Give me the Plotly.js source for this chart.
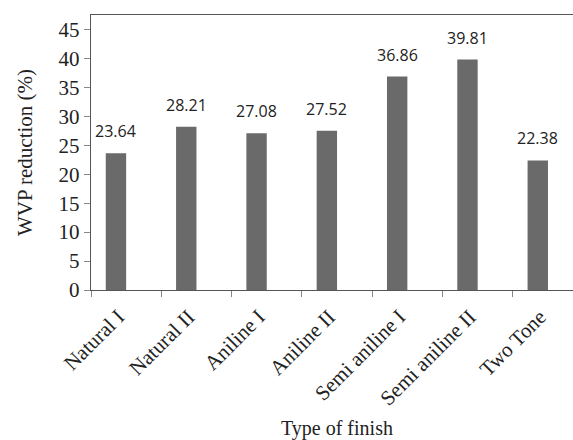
<!DOCTYPE html>
<html>
<head>
<meta charset="utf-8">
<script src="https://cdn.plot.ly/plotly-3.0.1.min.js"></script>
<style>html,body{margin:0;padding:0;background:#fff;}#chart{width:573px;height:440px;}</style>
</head>
<body>
<div id="chart"></div>
<script>
const categories = ["Natural I", "Natural II", "Aniline I", "Aniline II", "Semi aniline I", "Semi aniline II", "Two Tone"];
const values = [23.64, 28.21, 27.08, 27.52, 36.86, 39.81, 22.38];
const valueLabels = ["23.64", "28.21", "27.08", "27.52", "36.86", "39.81", "22.38"];
const yTicks = [0, 5, 10, 15, 20, 25, 30, 35, 40, 45];

const serif = "'Liberation Serif', 'Times New Roman', Times, serif";
const sans = "'Open Sans', 'Liberation Sans', sans-serif";

const barOffset = -0.29, barWidth = 0.29;

const trace = {
  type: "bar",
  x: categories,
  y: values,
  offset: barOffset,
  width: barWidth,
  marker: {color: "#6a6a6a", line: {width: 0}},
  hoverinfo: "none"
};

const annotations = values.map((v, i) => ({
  x: i + barOffset + barWidth / 2,
  y: v,
  xref: "x", yref: "y",
  text: valueLabels[i],
  showarrow: false,
  yanchor: "bottom",
  yshift: 9,
  font: {family: sans, size: 16, color: "#222"}
}));
annotations.push({
  x: 292 / 573,
  y: 1 - ((428 - 15) / (290 - 15)),
  xref: "paper", yref: "paper",
  xanchor: "center", yanchor: "middle",
  text: "Type of finish",
  showarrow: false,
  font: {family: serif, size: 20, color: "#222"}
});

const layout = {
  width: 573, height: 440,
  margin: {l: 91, r: 0, t: 15, b: 150, pad: 0},
  paper_bgcolor: "#fff", plot_bgcolor: "#fff",
  showlegend: false,
  xaxis: {
    type: "category",
    range: [-0.5, 6.356],
    showline: true, linecolor: "#555", linewidth: 1.3,
    mirror: true,
    ticks: "outside", ticklen: 6, tickcolor: "#888", tickson: "boundaries",
    tickangle: -45,
    ticklabelstandoff: 5,
    ticklabelshift: -8,
    tickfont: {family: serif, size: 21, color: "#222"},
    showgrid: false, zeroline: false
  },
  yaxis: {
    range: [0, 47.5],
    tickvals: yTicks,
    showline: true, linecolor: "#555", linewidth: 1.3,
    ticks: "outside", ticklen: 6, tickcolor: "#888",
    tickfont: {family: serif, size: 21, color: "#222"},
    showgrid: false, zeroline: false,
    title: {text: "WVP reduction (%)", font: {family: serif, size: 21, color: "#222"}, standoff: 20}
  },
  annotations: annotations
};

Plotly.newPlot("chart", [trace], layout, {displayModeBar: false, staticPlot: true});
</script>
</body>
</html>
